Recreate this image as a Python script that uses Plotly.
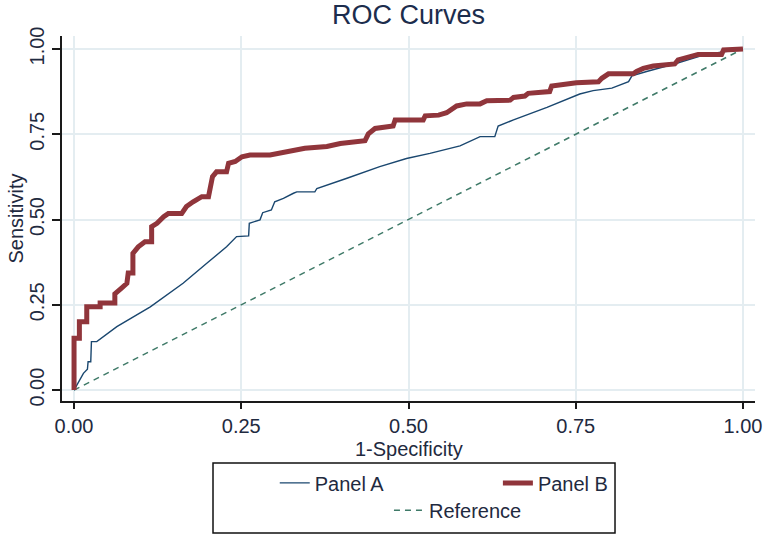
import plotly.graph_objects as go

# Panel A ROC curve vertices (1-Specificity, Sensitivity)
panel_a_x = [0.0, 0.008, 0.014, 0.020, 0.021, 0.025, 0.026, 0.034, 0.064, 0.114, 0.163, 0.198,
             0.228, 0.243, 0.261, 0.262, 0.278, 0.282, 0.295, 0.300, 0.313, 0.328, 0.333, 0.360,
             0.363, 0.408, 0.457, 0.497, 0.532, 0.577, 0.607, 0.629, 0.634, 0.657, 0.707, 0.756,
             0.776, 0.804, 0.829, 0.834, 0.856, 0.901, 0.941, 0.971, 1.0]
panel_a_y = [0.0, 0.029, 0.049, 0.061, 0.083, 0.083, 0.142, 0.142, 0.186, 0.244, 0.313, 0.371,
             0.420, 0.450, 0.452, 0.489, 0.499, 0.520, 0.528, 0.552, 0.562, 0.577, 0.581, 0.581,
             0.591, 0.621, 0.655, 0.679, 0.694, 0.716, 0.743, 0.743, 0.774, 0.792, 0.829, 0.868,
             0.878, 0.885, 0.904, 0.921, 0.934, 0.958, 0.982, 0.992, 1.0]

# Panel B ROC curve vertices
panel_b_x = [0.0, 0.0, 0.008, 0.008, 0.019, 0.019, 0.039, 0.039, 0.061, 0.061, 0.071, 0.079,
             0.081, 0.088, 0.088, 0.096, 0.106, 0.116, 0.116, 0.124, 0.134, 0.141, 0.161, 0.168,
             0.178, 0.191, 0.201, 0.203, 0.207, 0.213, 0.228, 0.231, 0.241, 0.251, 0.263, 0.293,
             0.313, 0.323, 0.345, 0.378, 0.398, 0.435, 0.440, 0.450, 0.477, 0.480, 0.522, 0.525,
             0.545, 0.557, 0.572, 0.587, 0.607, 0.617, 0.652, 0.657, 0.674, 0.679, 0.711, 0.714,
             0.731, 0.751, 0.784, 0.789, 0.799, 0.836, 0.841, 0.851, 0.866, 0.898, 0.903, 0.918,
             0.933, 0.968, 0.971, 1.0]
panel_b_y = [0.0, 0.152, 0.152, 0.200, 0.200, 0.244, 0.244, 0.255, 0.255, 0.282, 0.299, 0.313,
             0.343, 0.343, 0.401, 0.420, 0.435, 0.435, 0.479, 0.489, 0.508, 0.518, 0.518, 0.538,
             0.552, 0.567, 0.567, 0.591, 0.626, 0.640, 0.640, 0.665, 0.670, 0.684, 0.689, 0.689,
             0.696, 0.699, 0.709, 0.714, 0.723, 0.731, 0.751, 0.767, 0.774, 0.792, 0.792, 0.804,
             0.806, 0.813, 0.833, 0.839, 0.839, 0.848, 0.850, 0.858, 0.862, 0.870, 0.875, 0.891,
             0.897, 0.901, 0.904, 0.914, 0.927, 0.927, 0.934, 0.943, 0.950, 0.956, 0.968, 0.975,
             0.984, 0.984, 0.997, 1.0]

# Reference diagonal
ref_x = [0.0, 1.0]
ref_y = [0.0, 1.0]

tick_vals = [0.0, 0.25, 0.5, 0.75, 1.0]
tick_text = ["0.00", "0.25", "0.50", "0.75", "1.00"]

FONT = "Liberation Sans, Arial, sans-serif"
TXT = "#1f2a40"

fig = go.Figure()
fig.add_trace(go.Scatter(x=ref_x, y=ref_y, mode="lines", name="Reference",
                         line=dict(color="#3f7a68", width=1.5, dash="6px,5px"),
                         legend="legend3"))
fig.add_trace(go.Scatter(x=panel_a_x, y=panel_a_y, mode="lines", name="Panel A",
                         line=dict(color="#1a476f", width=1.4), legend="legend"))
fig.add_trace(go.Scatter(x=panel_b_x, y=panel_b_y, mode="lines", name="Panel B",
                         line=dict(color="#90353b", width=5), legend="legend2"))

leg_common = dict(orientation="h", xanchor="left", yanchor="middle",
                  bgcolor="rgba(0,0,0,0)", borderwidth=0,
                  font=dict(family=FONT, size=20, color=TXT))

W, H = 769, 536

fig.update_layout(
    width=W, height=H,
    margin=dict(l=62, r=14, t=36, b=135, autoexpand=False),
    paper_bgcolor="white", plot_bgcolor="white",
    font=dict(family=FONT, size=20, color=TXT),
    title=dict(text="ROC Curves", x=0.5, xref="paper", xanchor="center",
               y=1 - 15 / H, yref="container", yanchor="middle",
               font=dict(family=FONT, size=27, color="#1c2d4d")),
    showlegend=True,
    legend=dict(x=0.307, y=-0.2244, **leg_common),
    legend2=dict(x=0.629, y=-0.2244, **leg_common),
    legend3=dict(x=0.4718, y=-0.2994, **leg_common),
    xaxis=dict(range=[-0.018, 1.018], tickvals=tick_vals, ticktext=tick_text,
               automargin=False,
               showline=True, linecolor="#1a1a1a", linewidth=1.6,
               ticks="outside", ticklen=6, tickwidth=1.6, tickcolor="#1a1a1a",
               showgrid=True, gridcolor="#e4edf1", gridwidth=1.5, zeroline=False,
               tickfont=dict(family=FONT, size=20, color=TXT)),
    yaxis=dict(range=[-0.032, 1.038], tickvals=tick_vals, ticktext=tick_text,
               tickangle=-90, automargin=False,
               showline=True, linecolor="#1a1a1a", linewidth=1.6,
               ticks="outside", ticklen=8, tickwidth=1.6, tickcolor="#1a1a1a",
               showgrid=True, gridcolor="#e4edf1", gridwidth=1.5, zeroline=False,
               tickfont=dict(family=FONT, size=20, color=TXT)),
    annotations=[
        dict(text="1-Specificity", xref="paper", yref="paper",
             x=0.5, y=(401 - 449) / 365, xanchor="center", yanchor="middle",
             showarrow=False, font=dict(family=FONT, size=20, color=TXT)),
        dict(text="Sensitivity", xref="paper", yref="paper", textangle=-90,
             x=(15 - 62) / 693, y=0.5, xanchor="center", yanchor="middle",
             showarrow=False, font=dict(family=FONT, size=20, color=TXT)),
    ],
    shapes=[dict(type="rect", xref="paper", yref="paper",
                 x0=0.2179, x1=0.798, y0=-0.3616, y1=-0.1699,
                 line=dict(color="#111111", width=1.5), fillcolor="rgba(0,0,0,0)")],
)

fig.write_html("out.html", config={"displayModeBar": False},
               post_script="document.body.style.margin='0';document.body.style.overflow='hidden';")
